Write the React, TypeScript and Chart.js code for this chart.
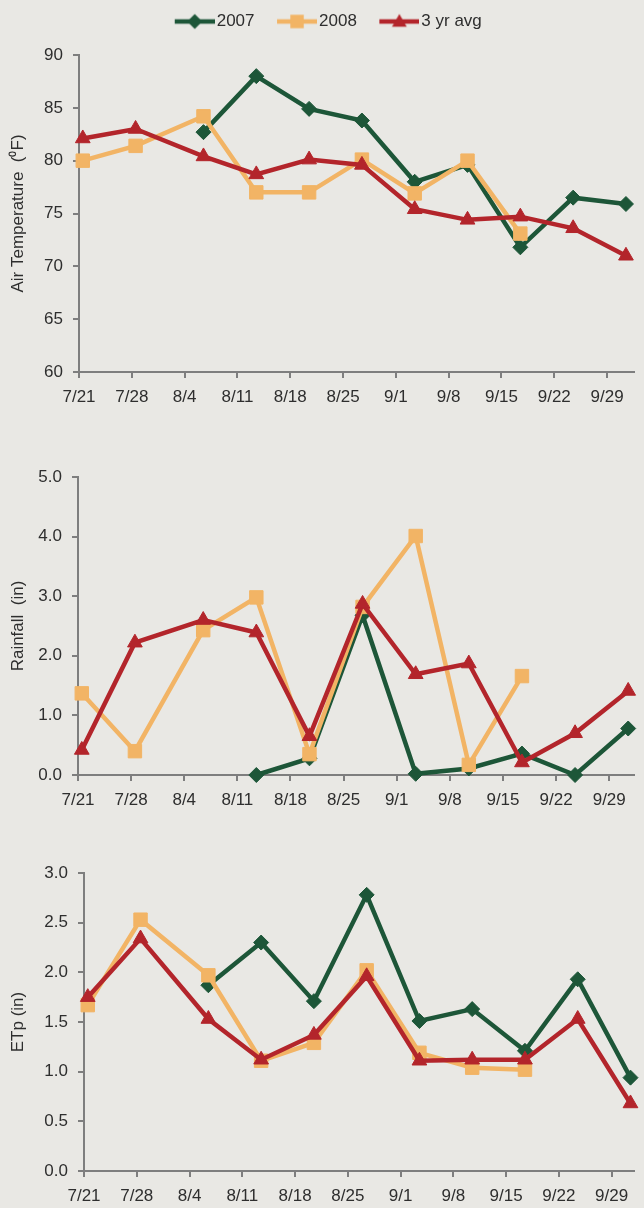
import React, { useEffect, useRef } from "react";
import { Chart, registerables } from "chart.js";

Chart.register(...registerables);

// ---------- data ----------
const weekTickLabels = ["7/21", "7/28", "8/4", "8/11", "8/18", "8/25", "9/1", "9/8", "9/15", "9/22", "9/29"];
// sample positions, in days after 7/21
const sampleDay = [0.5, 7.5, 16.5, 23.5, 30.5, 37.5, 44.5, 51.5, 58.5, 65.5, 72.5];

const seriesNames = ["2007", "2008", "3 yr avg"];

const airTemp2007 = [null, null, 82.7, 88.0, 84.9, 83.8, 78.0, 79.6, 71.8, 76.5, 75.9];
const airTemp2008 = [80.0, 81.4, 84.2, 77.0, 77.0, 80.1, 76.9, 80.0, 73.1, null, null];
const airTempAvg = [82.1, 83.0, 80.4, 78.7, 80.1, 79.6, 75.4, 74.4, 74.7, 73.6, 71.0];

const rain2007 = [null, null, null, 0.0, 0.28, 2.68, 0.02, 0.11, 0.36, 0.0, 0.78];
const rain2008 = [1.37, 0.4, 2.43, 2.98, 0.35, 2.82, 4.01, 0.17, 1.66, null, null];
const rainAvg = [0.42, 2.22, 2.6, 2.39, 0.65, 2.87, 1.69, 1.87, 0.21, 0.7, 1.41];

const etp2007 = [null, null, 1.87, 2.3, 1.71, 2.78, 1.51, 1.63, 1.21, 1.93, 0.94];
const etp2008 = [1.67, 2.53, 1.97, 1.11, 1.29, 2.02, 1.19, 1.04, 1.02, null, null];
const etpAvg = [1.75, 2.34, 1.53, 1.12, 1.37, 1.96, 1.11, 1.12, 1.12, 1.53, 0.68];

// ---------- styles ----------
const FONT = "'Liberation Sans', Arial, Helvetica, sans-serif";
const BG = "#e9e8e4";
const AXIS = "#7e7e7e";
const TEXT = "#2e2e2e";
const seriesColors = ["#1d5638", "#f2b465", "#b3252b"];
const seriesMarkers = ["rectRot", "rect", "triangle"];
const markerRadius = [7.5, 9.5, 8.5];
const seriesOrder = [3, 2, 1];
const LINE_W = 4.5;

function drawMarker(ctx: CanvasRenderingContext2D, style: string, cx: number, cy: number, r: number) {
  ctx.beginPath();
  if (style === "rectRot") {
    ctx.moveTo(cx, cy - r);
    ctx.lineTo(cx + r, cy);
    ctx.lineTo(cx, cy + r);
    ctx.lineTo(cx - r, cy);
  } else if (style === "rect") {
    const s = r * Math.SQRT1_2;
    ctx.rect(cx - s, cy - s, 2 * s, 2 * s);
  } else {
    ctx.moveTo(cx, cy - r);
    ctx.lineTo(cx + r * Math.sin((2 * Math.PI) / 3), cy - r * Math.cos((2 * Math.PI) / 3));
    ctx.lineTo(cx + r * Math.sin((4 * Math.PI) / 3), cy - r * Math.cos((4 * Math.PI) / 3));
  }
  ctx.closePath();
  ctx.fill();
}

function makeLegendImage(i: number): HTMLCanvasElement {
  const c = document.createElement("canvas");
  c.width = 59;
  c.height = 18;
  const ctx = c.getContext("2d")!;
  ctx.strokeStyle = seriesColors[i];
  ctx.fillStyle = seriesColors[i];
  ctx.lineWidth = LINE_W;
  ctx.beginPath();
  ctx.moveTo(19, 9);
  ctx.lineTo(59, 9);
  ctx.stroke();
  drawMarker(ctx, seriesMarkers[i], 39, i === 2 ? 10 : 9, markerRadius[i]);
  return c;
}

function buildDatasets(values: (number | null)[][]) {
  return values.map((vals, i) => ({
    label: seriesNames[i],
    data: sampleDay.map((d, k) => ({ x: d, y: vals[k] })),
    borderColor: seriesColors[i],
    backgroundColor: seriesColors[i],
    borderWidth: LINE_W,
    pointStyle: seriesMarkers[i],
    pointRadius: markerRadius[i],
    pointBorderWidth: 1,
    pointBackgroundColor: seriesColors[i],
    pointBorderColor: seriesColors[i],
    tension: 0,
    spanGaps: false,
    clip: false as any,
    order: seriesOrder[i],
  }));
}

type PanelProps = {
  top: number;
  height: number;
  values: (number | null)[][];
  yMin: number;
  yMax: number;
  yStep: number;
  yDecimals: number;
  yTitle: string;
  yAxisWidth: number;
  xMax: number;
  padTop: number;
  padBottom: number;
  showLegend: boolean;
};

const X_AXIS_H = 40;

function Panel(p: PanelProps) {
  const ref = useRef<HTMLCanvasElement | null>(null);
  useEffect(() => {
    if (!ref.current) return;
    const legendImages = seriesNames.map((_, i) => makeLegendImage(i));
    const legendGap = {
      id: "legendGap",
      beforeLayout(chart: any) {
        const legend = chart.legend;
        if (legend && !legend._gapPatched) {
          const orig = legend.fit;
          legend.fit = function () {
            orig.call(this);
            this.height += 15;
          };
          legend._gapPatched = true;
        }
      },
    };
    const chart = new Chart(ref.current, {
      type: "line",
      data: { datasets: buildDatasets(p.values) as any },
      options: {
        responsive: false,
        maintainAspectRatio: false,
        animation: false,
        events: [],
        layout: { padding: { top: p.padTop, bottom: p.padBottom, left: 0, right: 0 } },
        plugins: {
          tooltip: { enabled: false },
          legend: p.showLegend
            ? {
                display: true,
                position: "top",
                align: "center",
                labels: {
                  usePointStyle: true,
                  pointStyleWidth: 46,
                  padding: 10,
                  color: TEXT,
                  font: { family: FONT, size: 17 },
                  generateLabels: () =>
                    seriesNames.map((name, i) => ({
                      text: name,
                      pointStyle: legendImages[i] as any,
                      datasetIndex: i,
                      hidden: false,
                      fillStyle: seriesColors[i],
                      strokeStyle: seriesColors[i],
                      lineWidth: 0,
                      fontColor: TEXT,
                    })),
                },
              }
            : { display: false },
        },
        scales: {
          x: {
            type: "linear",
            min: 0,
            max: p.xMax,
            afterFit: (scale: any) => {
              scale.height = X_AXIS_H;
            },
            border: { display: true, color: AXIS, width: 2 },
            grid: {
              display: true,
              drawOnChartArea: false,
              drawTicks: true,
              tickLength: 6,
              color: AXIS,
              lineWidth: 2,
            },
            ticks: {
              stepSize: 7,
              includeBounds: false,
              autoSkip: false,
              maxRotation: 0,
              minRotation: 0,
              padding: 9,
              color: TEXT,
              font: { family: FONT, size: 17 },
              callback: (v: any) => {
                const i = Math.round(Number(v) / 7);
                return weekTickLabels[i] ?? "";
              },
            },
          },
          y: {
            type: "linear",
            min: p.yMin,
            max: p.yMax,
            afterFit: (scale: any) => {
              scale.width = p.yAxisWidth;
            },
            border: { display: true, color: AXIS, width: 2 },
            grid: {
              display: true,
              drawOnChartArea: false,
              drawTicks: true,
              tickLength: 6,
              color: AXIS,
              lineWidth: 2,
            },
            ticks: {
              stepSize: p.yStep,
              padding: 10,
              color: TEXT,
              font: { family: FONT, size: 17 },
              callback: (v: any) => Number(v).toFixed(p.yDecimals),
            },
            title: {
              display: true,
              text: p.yTitle,
              color: TEXT,
              font: { family: FONT, size: 17 },
              padding: { top: 8, bottom: 0 },
            },
          },
        },
      },
      plugins: p.showLegend ? [legendGap as any] : [],
    });
    return () => chart.destroy();
  }, []);
  return (
    <div style={{ position: "absolute", left: 0, top: p.top, width: 644, height: p.height }}>
      <canvas ref={ref} width={644} height={p.height} style={{ width: 644, height: p.height, display: "block" }} />
    </div>
  );
}

export default function App() {
  useEffect(() => {
    document.body.style.background = BG;
  }, []);
  return (
    <div style={{ position: "absolute", left: 0, top: 0, width: 644, height: 1208, background: BG, overflow: "hidden" }}>
      <Panel
        top={0}
        height={420}
        values={[airTemp2007, airTemp2008, airTempAvg]}
        yMin={60}
        yMax={90}
        yStep={5}
        yDecimals={0}
        yTitle={"Air Temperature  (\u2070F)"}
        yAxisWidth={79}
        xMax={73.5}
        padTop={3}
        padBottom={8}
        showLegend={true}
      />
      <Panel
        top={440}
        height={390}
        values={[rain2007, rain2008, rainAvg]}
        yMin={0}
        yMax={5}
        yStep={1}
        yDecimals={1}
        yTitle={"Rainfall  (in)"}
        yAxisWidth={78}
        xMax={73.2}
        padTop={37}
        padBottom={15}
        showLegend={false}
      />
      <Panel
        top={840}
        height={378}
        values={[etp2007, etp2008, etpAvg]}
        yMin={0}
        yMax={3}
        yStep={0.5}
        yDecimals={1}
        yTitle={"ETp (in)"}
        yAxisWidth={84}
        xMax={72.9}
        padTop={33}
        padBottom={7}
        showLegend={false}
      />
    </div>
  );
}
